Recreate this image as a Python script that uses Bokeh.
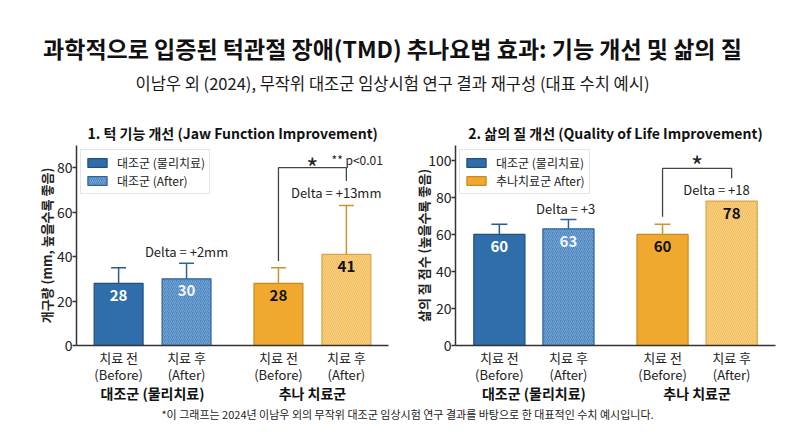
import math
from bokeh.plotting import figure
from bokeh.models import (ColumnDataSource, FactorRange, Range1d, FixedTicker,
                          Legend, LegendItem)
from bokeh.layouts import column, row
from bokeh.transform import dodge
from bokeh.core.properties import value
from bokeh.embed import file_html
from bokeh.resources import INLINE

FONT = "Noto Sans CJK KR"
INK = "#222222"

# ---------------- data ----------------
main_title = "과학적으로 입증된 턱관절 장애(TMD) 추나요법 효과: 기능 개선 및 삶의 질"
subtitle = "이남우 외 (2024), 무작위 대조군 임상시험 연구 결과 재구성 (대표 수치 예시)"
footnote = "*이 그래프는 2024년 이남우 외의 무작위 대조군 임상시험 연구 결과를 바탕으로 한 대표적인 수치 예시입니다."

groups = ["대조군 (물리치료)", "추나 치료군"]
phases = ["치료 전\n(Before)", "치료 후\n(After)"]

jaw_title = "1. 턱 기능 개선 (Jaw Function Improvement)"
jaw_ylabel = "개구량 (mm, 높을수록 좋음)"
jaw_values = [28, 30, 28, 41]
jaw_err_top = [35, 37, 35, 63]
jaw_deltas = ["Delta = +2mm", "Delta = +13mm"]
jaw_legend = ["대조군 (물리치료)", "대조군 (After)"]
jaw_ticks = [0, 20, 40, 60, 80]
jaw_pnote = "** p<0.01"

qol_title = "2. 삶의 질 개선 (Quality of Life Improvement)"
qol_ylabel = "삶의 질 점수 (높을수록 좋음)"
qol_values = [60, 63, 60, 78]
qol_err_top = [65.5, 68, 65.5, float("nan")]
qol_deltas = ["Delta = +3", "Delta = +18"]
qol_legend = ["대조군 (물리치료)", "추나치료군 After)"]
qol_ticks = [0, 20, 40, 60, 80, 100]

star = "*"

# ---------------- styles ----------------
factors = [(g, ph) for g in groups for ph in phases]
bar_fill = ["#2f6eaa", "#4a86c2", "#f0a92e", "#f4be5c"]
bar_line = ["#1f4f7f", "#2d639a", "#c88a1e", "#d8a448"]
bar_hatch = [" ", "/", " ", "/"]
err_color = ["#2a5a8a", "#2d639a", "#c8962e", "#c8962e"]
label_color = ["#ffffff", "#f2f6fb", "#111111", "#111111"]


def panel(title, ylabel, values, err_top, deltas, delta_y, delta_dodge,
          legend_labels, legend_idx, ticks, y_end, group_pad, range_pad,
          bar_w, border_left, border_right, label_drop, cap,
          br_low, br_high, br_drop, star_lift, ylab_standoff,
          pnote=None, pnote_lift=0):
    xr = FactorRange(*factors, group_padding=group_pad, range_padding=range_pad,
                     range_padding_units="absolute")
    p = figure(x_range=xr, y_range=Range1d(0, y_end), width=392, height=309,
               output_backend="svg", toolbar_location=None,
               min_border_left=border_left, min_border_right=border_right,
               min_border_top=49, min_border_bottom=50)
    p.outline_line_color = None
    p.xgrid.grid_line_color = None
    p.ygrid.grid_line_color = None

    src = ColumnDataSource(dict(
        x=factors, top=values, err=err_top, fill=bar_fill, line=bar_line,
        hatch=bar_hatch, ecol=err_color, lcol=label_color,
        lab=[str(v) for v in values],
        laby=[v - label_drop for v in values]))

    bars = p.vbar(x="x", top="top", width=bar_w, source=src,
                  fill_color="fill", line_color="line", line_width=1.2,
                  hatch_pattern="hatch", hatch_color="#ffffff", hatch_alpha=0.35,
                  hatch_scale=4, hatch_weight=0.8)
    p.segment(x0="x", y0="top", x1="x", y1="err", line_color="ecol",
              line_width=1.5, source=src)
    p.scatter(x="x", y="err", marker="dash", size=cap, line_color="ecol",
              line_width=1.5, source=src)
    p.text(x="x", y="laby", text="lab", text_color="lcol", text_font=value(FONT),
           text_font_size="15px", text_font_style="bold", text_align="center",
           text_baseline="middle", source=src)

    # delta annotations
    dsrc = ColumnDataSource(dict(x=[factors[1]], y=[delta_y[0]], t=[deltas[0]]))
    p.text(x=dodge("x", delta_dodge[0], range=xr), y="y", text="t", source=dsrc,
           text_font=value(FONT), text_font_size="13px", text_color=INK,
           text_align="center", text_baseline="middle")
    dsrc2 = ColumnDataSource(dict(x=[factors[3]], y=[delta_y[1]], t=[deltas[1]]))
    p.text(x=dodge("x", delta_dodge[1], range=xr), y="y", text="t", source=dsrc2,
           text_font=value(FONT), text_font_size="13px", text_color=INK,
           text_align="center", text_baseline="middle")

    # significance bracket
    bsrc = ColumnDataSource(dict(
        x=[factors[2], factors[2], factors[3], factors[3]],
        y=[br_low, br_high, br_high, br_high - br_drop]))
    p.line(x="x", y="y", source=bsrc, line_color="#444444", line_width=1.3)
    ssrc = ColumnDataSource(dict(x=[factors[2]], y=[br_high + star_lift], t=[star]))
    p.text(x=dodge("x", 0.5, range=xr), y="y", text="t", source=ssrc,
           text_font=value(FONT), text_font_size="26px", text_color=INK,
           text_align="center", text_baseline="middle")
    if pnote:
        psrc = ColumnDataSource(dict(x=[factors[3]], y=[br_high + pnote_lift], t=[pnote]))
        p.text(x=dodge("x", 0.16, range=xr), y="y", text="t", source=psrc,
               text_font=value(FONT), text_font_size="12px", text_color=INK,
               text_align="center", text_baseline="middle")

    # legend
    items = [LegendItem(label=legend_labels[i], renderers=[bars], index=legend_idx[i])
             for i in range(2)]
    leg = Legend(items=items, location="top_left")
    leg.label_text_font = FONT
    leg.label_text_font_size = "12px"
    leg.label_text_color = INK
    leg.glyph_width = 24
    leg.glyph_height = 11
    leg.label_height = 13
    leg.spacing = 1
    leg.padding = 4
    leg.margin = 4
    leg.label_standoff = 8
    leg.border_line_color = "#cccccc"
    leg.background_fill_alpha = 0.9
    p.add_layout(leg)

    # title
    p.title.text = title
    p.title.align = "center"
    p.title.text_font = FONT
    p.title.text_font_size = "14px"
    p.title.text_font_style = "bold"
    p.title.text_color = "#111111"
    p.title.standoff = 6

    # axes
    for ax in (p.xaxis, p.yaxis):
        ax.axis_line_color = "#333333"
        ax.axis_line_width = 1.5
        ax.major_label_text_font = FONT
        ax.major_label_text_color = INK
    p.xaxis.major_tick_line_color = None
    p.xaxis.minor_tick_line_color = None
    p.xaxis.separator_line_color = None
    p.xaxis.major_label_text_font_size = "13px"
    p.xaxis.major_label_text_line_height = 0.9
    p.xaxis.major_label_standoff = -4
    p.xaxis.group_text_font = FONT
    p.xaxis.group_text_font_size = "14px"
    p.xaxis.group_text_font_style = "bold"
    p.xaxis.group_text_line_height = 1.0
    p.xaxis.group_text_color = "#111111"
    p.yaxis.ticker = FixedTicker(ticks=ticks)
    p.yaxis.minor_tick_line_color = None
    p.yaxis.major_tick_out = 4
    p.yaxis.major_tick_in = 0
    p.yaxis.major_tick_line_color = "#333333"
    p.yaxis.major_tick_line_width = 1.5
    p.yaxis.major_label_standoff = 0
    p.yaxis.major_label_text_font_size = "14px"
    p.yaxis.axis_label = ylabel
    p.yaxis.axis_label_text_font = FONT
    p.yaxis.axis_label_text_font_size = "13px"
    p.yaxis.axis_label_text_font_style = "bold"
    p.yaxis.axis_label_text_color = INK
    p.yaxis.axis_label_standoff = ylab_standoff
    return p


p1 = panel(jaw_title, jaw_ylabel, jaw_values, jaw_err_top, jaw_deltas,
           [jaw_err_top[1] + 5.5, jaw_err_top[3] + 6], [0.0, -0.15],
           jaw_legend, [0, 1], jaw_ticks, 90, 0.353, 0.12, 0.72, 76, 4, 5.4, 15,
           jaw_err_top[2] + 3, 80, 6, 0.5, -2, jaw_pnote, 3.8)
p2 = panel(qol_title, qol_ylabel, qol_values, qol_err_top, qol_deltas,
           [qol_err_top[1] + 6, qol_values[3] + 6], [-0.04, -0.22],
           qol_legend, [0, 2], qol_ticks, 108, 0.362, 0.135, 0.74, 63, 9, 6.8, 16,
           qol_err_top[2] + 4, 95.7, 5.4, 2.2, -8)

head = figure(width=784, height=96, x_range=Range1d(0, 784), y_range=Range1d(0, 96),
              output_backend="svg", toolbar_location=None, x_axis_type=None,
              y_axis_type=None, min_border=0)
head.outline_line_color = None
head.text(x=[392], y=[49], text=[main_title], text_font=value(FONT),
          text_font_size="23px", text_font_style="bold", text_color="#111111",
          text_align="center", text_baseline="middle")
head.text(x=[392], y=[14], text=[subtitle], text_font=value(FONT),
          text_font_size="16.5px", text_color="#1a1a1a",
          text_align="center", text_baseline="middle")

foot = figure(width=784, height=15, x_range=Range1d(0, 784), y_range=Range1d(0, 15),
              output_backend="svg", toolbar_location=None, x_axis_type=None,
              y_axis_type=None, min_border=0)
foot.outline_line_color = None
foot.text(x=[407], y=[7], text=[footnote], text_font=value(FONT),
          text_font_size="11px", text_color="#222222",
          text_align="center", text_baseline="middle")

layout = column(head, row(p1, p2), foot)
open("out.html", "w").write(file_html(layout, INLINE))
